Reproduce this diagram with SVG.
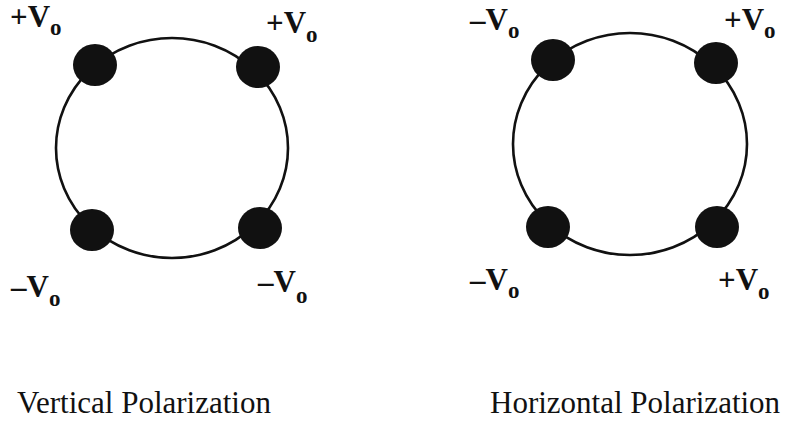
<svg xmlns="http://www.w3.org/2000/svg" width="789" height="423" viewBox="0 0 789 423">
<style>
.ring{fill:none;stroke:#111;stroke-width:2.6}
.dot{fill:#111}
.lbl{font-family:"Liberation Serif","Times New Roman",serif;font-weight:bold;font-size:31px;fill:#111}
.sub{font-size:23px}
.cap{font-family:"Liberation Serif","Times New Roman",serif;font-size:31px;fill:#111}
</style>
<rect width="789" height="423" fill="#fff"/>
<g id="connectors">
<ellipse class="ring" cx="172" cy="148" rx="116" ry="110"/>
<ellipse class="ring" cx="630" cy="144" rx="117" ry="111"/>
</g>
<g id="vertical">
<g id="v-tl"><ellipse class="dot" cx="95" cy="65" rx="22" ry="21"/><text class="lbl" x="10" y="27">+V<tspan class="sub" dy="8">o</tspan></text></g>
<g id="v-tr"><ellipse class="dot" cx="258" cy="67" rx="22" ry="21"/><text class="lbl" x="266" y="33">+V<tspan class="sub" dy="9">o</tspan></text></g>
<g id="v-bl"><ellipse class="dot" cx="92" cy="230" rx="22" ry="21"/><text class="lbl" x="11" y="297">–V<tspan class="sub" dy="9">o</tspan></text></g>
<g id="v-br"><ellipse class="dot" cx="260" cy="228" rx="22" ry="21"/><text class="lbl" x="258" y="292">–V<tspan class="sub" dy="11">o</tspan></text></g>
<text id="v-title" class="cap" x="17" y="413">Vertical Polarization</text>
</g>
<g id="horizontal">
<g id="h-tl"><ellipse class="dot" cx="553" cy="60" rx="22" ry="21"/><text class="lbl" x="470" y="30">–V<tspan class="sub" dy="8">o</tspan></text></g>
<g id="h-tr"><ellipse class="dot" cx="716" cy="63" rx="22" ry="21"/><text class="lbl" x="724" y="30">+V<tspan class="sub" dy="8">o</tspan></text></g>
<g id="h-bl"><ellipse class="dot" cx="548" cy="227" rx="22" ry="21"/><text class="lbl" x="470" y="290">–V<tspan class="sub" dy="8">o</tspan></text></g>
<g id="h-br"><ellipse class="dot" cx="717" cy="227" rx="22" ry="21"/><text class="lbl" x="718" y="290">+V<tspan class="sub" dy="9">o</tspan></text></g>
<text id="h-title" class="cap" x="490" y="413">Horizontal Polarization</text>
</g>
</svg>
